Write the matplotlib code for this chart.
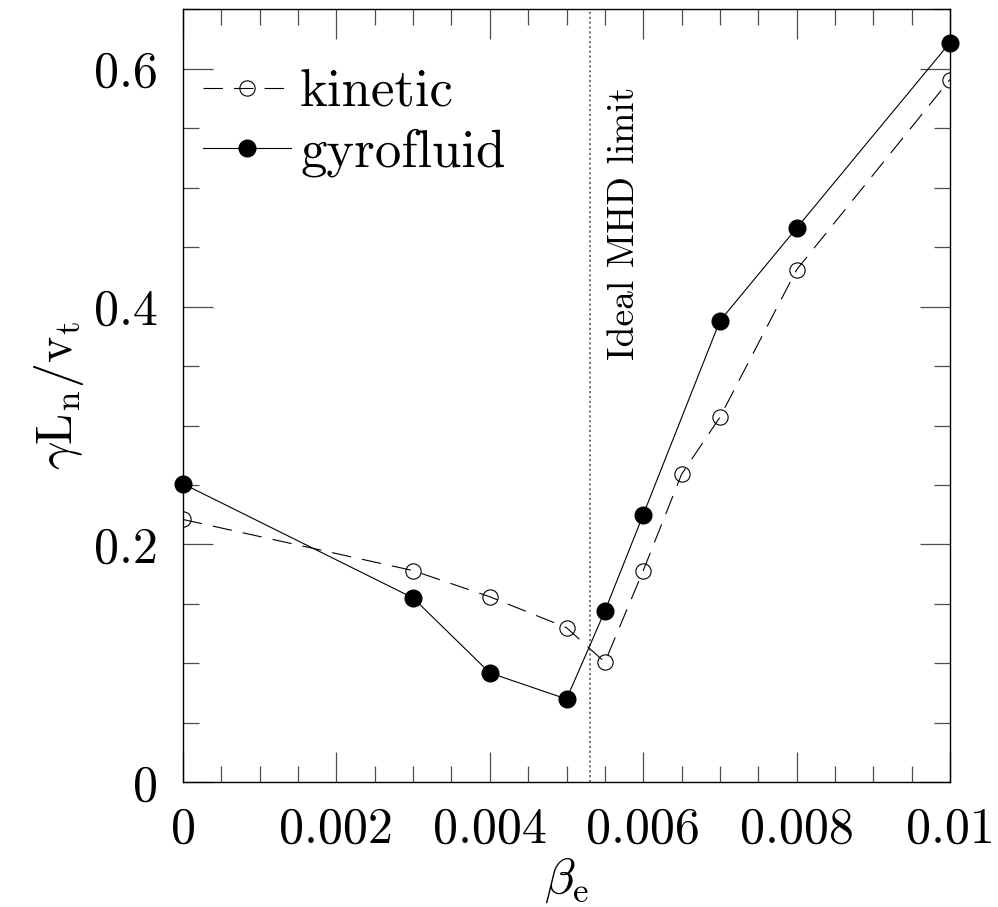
import matplotlib
matplotlib.use("Agg")
import matplotlib.pyplot as plt
from matplotlib.ticker import MultipleLocator

plt.rcParams['font.family'] = ['cmr10', 'DejaVu Serif']
plt.rcParams['mathtext.fontset'] = 'cm'
plt.rcParams['axes.formatter.use_mathtext'] = True
plt.rcParams['lines.scale_dashes'] = False

#growth rate vs beta_e, kinetic and gyrofluid results
beta_kin = [0, 0.003, 0.004, 0.005, 0.0055, 0.006, 0.0065, 0.007, 0.008, 0.01]
gamma_kin = [0.221, 0.178, 0.156, 0.130, 0.101, 0.178, 0.259, 0.307, 0.431, 0.591]

beta_gf = [0, 0.003, 0.004, 0.005, 0.0055, 0.006, 0.007, 0.008, 0.01]
gamma_gf = [0.251, 0.155, 0.092, 0.070, 0.144, 0.225, 0.388, 0.466, 0.622]

mhd_limit = 0.00531

xticks = [0, 0.002, 0.004, 0.006, 0.008, 0.01]
xticklabels = ["0", "0.002", "0.004", "0.006", "0.008", "0.01"]
yticks = [0, 0.2, 0.4, 0.6]
yticklabels = ["0", "0.2", "0.4", "0.6"]

fig = plt.figure(figsize=(9.98, 9.07), dpi=100)
ax = fig.add_axes([0.1834, 0.1375, 0.7685, 0.8522])

ax.plot(beta_kin, gamma_kin, color="black", lw=0.8, dashes=(14, 8),
        marker="o", markersize=11, markerfacecolor="none",
        markeredgecolor="black", markeredgewidth=0.8, label="kinetic")
ax.plot(beta_gf, gamma_gf, color="black", lw=0.8, marker="o",
        markersize=12, markerfacecolor="black", markeredgecolor="black",
        label="gyrofluid", clip_on=False, zorder=5)

ax.axvline(mhd_limit, color="0.3", lw=1.1, linestyle=(0, (1.5, 2)))
ax.text(0.00576, 0.47, "Ideal MHD limit", rotation=90, ha="center",
        va="center", fontsize=27)

ax.set_xlim(0, 0.01)
ax.set_ylim(0, 0.65)
ax.set_xticks(xticks)
ax.set_xticklabels(xticklabels)
ax.set_yticks(yticks)
ax.set_yticklabels(yticklabels)
ax.xaxis.set_minor_locator(MultipleLocator(0.0005))
ax.yaxis.set_minor_locator(MultipleLocator(0.05))

ax.tick_params(which="both", direction="in", top=True, right=True,
               width=0.9, color="0.3", labelsize=36, pad=18)
ax.tick_params(which="major", length=21.6)
ax.tick_params(which="minor", length=11.5)
for s in ax.spines.values():
    s.set_linewidth(1.0)

ax.set_xlabel(r"$\beta_{\rm e}$", fontsize=36, labelpad=2)
ax.set_ylabel(r"$\gamma \mathrm{L_n/v_t}$", fontsize=36, labelpad=6)

ax.legend(loc="upper left", bbox_to_anchor=(0.026, 0.922), frameon=False,
          fontsize=38, borderpad=0, borderaxespad=0, handlelength=1.67,
          handletextpad=0.17, labelspacing=0.22)

plt.savefig("out.png", dpi=100)
